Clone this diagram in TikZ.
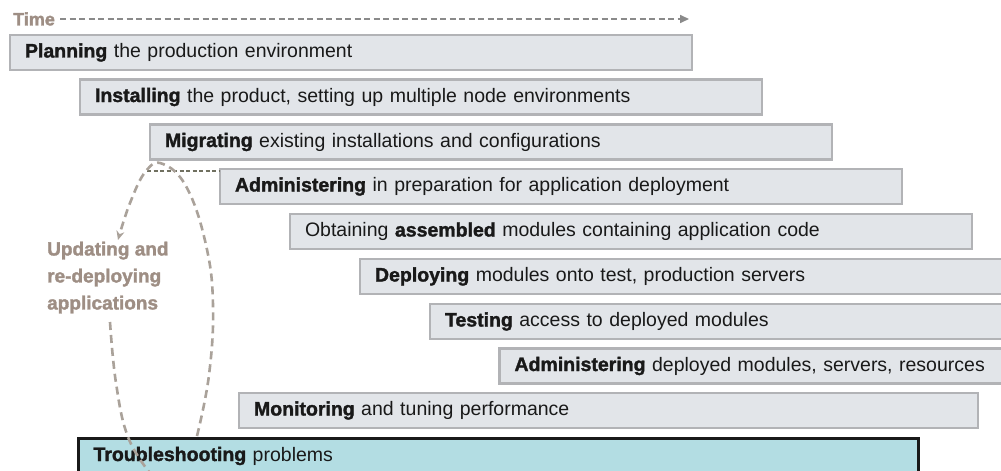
\documentclass[tikz,border=0pt]{standalone}
\usepackage{fontspec}
\setmainfont{Liberation Sans}[BoldFeatures={FakeBold=1.6}]
\usetikzlibrary{arrows.meta}
\definecolor{boxfill}{RGB}{226,229,233}
\definecolor{boxline}{RGB}{178,179,182}
\definecolor{tsfill}{RGB}{179,221,227}
\definecolor{lblcol}{RGB}{158,142,132}
\definecolor{loopcol}{RGB}{170,162,154}
\definecolor{dotcol}{RGB}{112,112,96}
\definecolor{timecol}{RGB}{138,138,138}
\definecolor{txt}{RGB}{25,25,25}
\begin{document}
\begin{tikzpicture}[x=1pt,y=-1pt,
  box/.style={draw=boxline, fill=boxfill, line width=2.5pt, inner xsep=15pt, inner ysep=0pt,
    outer sep=0pt, minimum height=35pt, anchor=north west, text width=#1-30pt, align=left,
    font=\fontsize{19.5}{22}\selectfont, text=txt},
  tsbox/.style={box=#1, draw=txt, fill=tsfill, line width=3pt},
  lbl/.style={text=lblcol, font=\fontsize{19}{27}\selectfont\bfseries, inner sep=0pt},
  looppath/.style={draw=loopcol, line width=2.6pt, dash pattern=on 8pt off 5pt},
  dotpath/.style={draw=dotcol, line width=2.2pt, dash pattern=on 4pt off 2.5pt},
  timepath/.style={draw=timecol, line width=1.6pt, dash pattern=on 6pt off 3.5pt,
    -{Triangle[length=9pt,width=8pt]}}
]
\clip (0,0) rectangle (1001,471);
\fill[white] (0,0) rectangle (1001,471);

% time axis
\node[lbl, font=\fontsize{18}{20}\selectfont\bfseries, anchor=west] (time) at (13,19) {Time};
\coordinate (tend) at (689,19);
\draw[timepath] ([xshift=5pt]time.east) -- (tend);

% boxes
\node[box=682pt] (plan) at (10,35) {\textbf{Planning} the production environment};
\node[box=682pt] (inst) at (80,79.5) {\textbf{Installing} the product, setting up multiple node environments};
\node[box=682pt] (migr) at (150,124.5) {\textbf{Migrating} existing installations and configurations};
\node[box=682pt] (admin) at (220,169) {\textbf{Administering} in preparation for application deployment};
\node[box=682pt] (obt) at (290,214) {Obtaining \textbf{assembled} modules containing application code};
\node[box=700pt] (depl) at (360,259) {\textbf{Deploying} modules onto test, production servers};
\node[box=700pt] (test) at (430,304) {\textbf{Testing} access to deployed modules};
\node[box=700pt] (adm2) at (499.5,348.5) {\textbf{Administering} deployed modules, servers, resources};
\node[box=739pt] (mon) at (239,393) {\textbf{Monitoring} and tuning performance};
\node[tsbox=840pt] (ts) at (78.5,438.5) {\textbf{Troubleshooting} problems};

% dotted link from migration to administering
\coordinate (d0) at (147,171);
\draw[dotpath] (d0) -- (d0 -| admin.west);

% update loop
\node[lbl, anchor=north west, align=left] (upd) at (47,241.5) {Updating and\\re-deploying\\applications};
\draw[looppath, -{Stealth[length=9pt,width=8pt]}] plot[smooth, tension=0.7] coordinates
  {(197,436) (209,375) (213,305) (206,245) (187,188) (163,164) (146,171) (130,203) (118,240)};
\draw[looppath] plot[smooth, tension=0.7] coordinates
  {(110,322) (116,383) (128,437) (150,473)};
\end{tikzpicture}
\end{document}
